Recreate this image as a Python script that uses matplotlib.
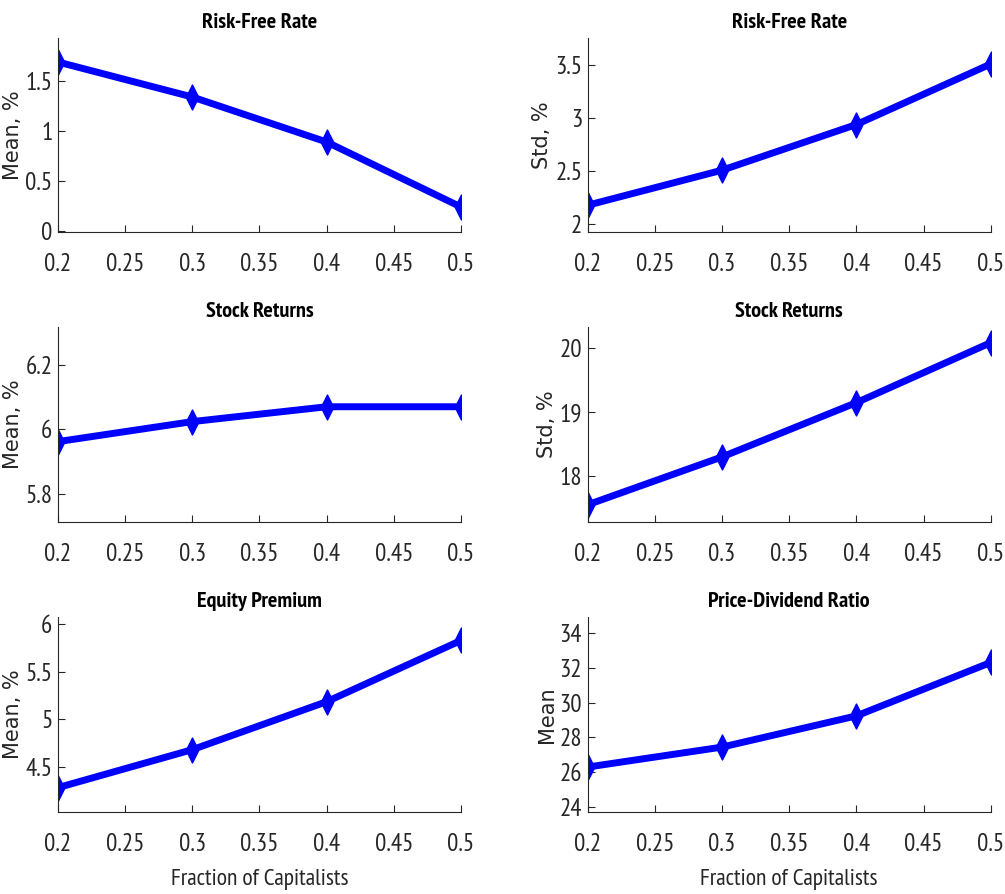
import matplotlib
matplotlib.use("Agg")
import matplotlib.pyplot as plt
from matplotlib.path import Path

# fraction of capitalists on the x axis
frac = [0.2, 0.3, 0.4, 0.5]

rf_mean = [1.69, 1.34, 0.89, 0.24]
rf_std = [2.18, 2.51, 2.94, 3.51]
ret_mean = [5.962, 6.024, 6.07, 6.07]
ret_std = [17.55, 18.30, 19.15, 20.09]
ep_mean = [4.28, 4.68, 5.185, 5.83]
pd_mean = [26.29, 27.44, 29.24, 32.32]

titles = ["Risk-Free Rate", "Risk-Free Rate", "Stock Returns", "Stock Returns",
          "Equity Premium", "Price-Dividend Ratio"]
ylabels = ["Mean, %", "Std, %", "Mean, %", "Std, %", "Mean, %", "Mean"]
series = [rf_mean, rf_std, ret_mean, ret_std, ep_mean, pd_mean]
ylims = [(-0.013, 1.93), (1.925, 3.755), (5.712, 6.318), (17.275, 20.34),
         (4.02, 6.08), (23.68, 34.96)]
yticks = [[0, 0.5, 1, 1.5], [2, 2.5, 3, 3.5], [5.8, 6, 6.2], [18, 19, 20],
          [4.5, 5, 5.5, 6], [24, 26, 28, 30, 32, 34]]
xticks = [0.2, 0.25, 0.3, 0.35, 0.4, 0.45, 0.5]

narrow = "PT Sans Narrow"
wide = "DejaVu Sans"

# tall thin diamond marker
diamond = Path([(0, 1), (0.5, 0), (0, -1), (-0.5, 0), (0, 1)],
               [Path.MOVETO, Path.LINETO, Path.LINETO, Path.LINETO, Path.CLOSEPOLY])

W, H = 1005, 894
fig = plt.figure(figsize=(W / 100, H / 100), dpi=100)

col_left = [58, 587.7]
row_top = [38, 326.7, 616.7]
row_bot = [232.3, 522.3, 812.3]
ax_w = 403

for i in range(6):
    r, c = divmod(i, 2)
    x0 = col_left[c] / W
    y0 = 1 - row_bot[r] / H
    h = (row_bot[r] - row_top[r]) / H
    ax = fig.add_axes([x0, y0, ax_w / W, h])
    ax.plot(frac, series[i], color=(0, 0, 1), lw=5, marker=diamond,
            markersize=18, solid_joinstyle="miter")
    ax.set_xlim(0.2, 0.5)
    ax.set_ylim(*ylims[i])
    ax.set_xticks(xticks)
    ax.set_xticklabels([("%g" % v) for v in xticks])
    ax.set_yticks(yticks[i])
    ax.set_yticklabels([("%g" % v) for v in yticks[i]])
    for s in ["top", "right"]:
        ax.spines[s].set_visible(False)
    for s in ["left", "bottom"]:
        ax.spines[s].set_color("#262626")
        ax.spines[s].set_linewidth(0.8)
    ax.tick_params(direction="in", length=5, width=0.8, color="#262626",
                   labelcolor="#262626", labelsize=18)
    ax.tick_params(axis="x", pad=15)
    ax.tick_params(axis="y", pad=4)
    for lab in ax.get_xticklabels() + ax.get_yticklabels():
        lab.set_family(narrow)
    ax.set_title(titles[i], fontsize=16, fontweight="bold", family=narrow, pad=7)
    ax.set_ylabel(ylabels[i], fontsize=15, family=wide, color="#262626", labelpad=2)
    if r == 2:
        ax.set_xlabel("Fraction of Capitalists", fontsize=17, family=narrow,
                      color="#262626", labelpad=9)
    ax.patch.set_visible(False)

fig.savefig("out.png", dpi=100)
